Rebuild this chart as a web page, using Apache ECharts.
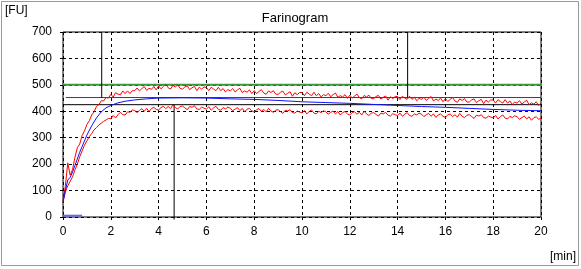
<!DOCTYPE html>
<html><head><meta charset="utf-8">
<script src="https://cdn.jsdelivr.net/npm/echarts@6/dist/echarts.min.js"></script>
<style>html,body{margin:0;padding:0;background:#fff}#c{width:581px;height:269px}</style>
</head><body><div id="c"></div>
<script>
// ---- data ----
const xTicks = [0,2,4,6,8,10,12,14,16,18,20];
const yTicks = [0,100,200,300,400,500,600,700];
const redTimes = [0,0.1,0.2,0.3,0.4,0.5,0.6,0.7,0.8,0.9,1,1.1,1.2,1.3,1.4,1.5,1.6,1.7,1.8,1.9,
2,2.1,2.2,2.3,2.4,2.5,2.6,2.7,2.8,2.9,3,3.1,3.2,3.3,3.4,3.5,3.6,3.7,3.8,3.9,
4,4.1,4.2,4.3,4.4,4.5,4.6,4.7,4.8,4.9,5,5.1,5.2,5.3,5.4,5.5,5.6,5.7,5.8,5.9,
6,6.1,6.2,6.3,6.4,6.5,6.6,6.7,6.8,6.9,7,7.1,7.2,7.3,7.4,7.5,7.6,7.7,7.8,7.9,
8,8.1,8.2,8.3,8.4,8.5,8.6,8.7,8.8,8.9,9,9.1,9.2,9.3,9.4,9.5,9.6,9.7,9.8,9.9,
10,10.1,10.2,10.3,10.4,10.5,10.6,10.7,10.8,10.9,11,11.1,11.2,11.3,11.4,11.5,11.6,11.7,11.8,11.9,
12,12.1,12.2,12.3,12.4,12.5,12.6,12.7,12.8,12.9,13,13.1,13.2,13.3,13.4,13.5,13.6,13.7,13.8,13.9,
14,14.1,14.2,14.3,14.4,14.5,14.6,14.7,14.8,14.9,15,15.1,15.2,15.3,15.4,15.5,15.6,15.7,15.8,15.9,
16,16.1,16.2,16.3,16.4,16.5,16.6,16.7,16.8,16.9,17,17.1,17.2,17.3,17.4,17.5,17.6,17.7,17.8,17.9,
18,18.1,18.2,18.3,18.4,18.5,18.6,18.7,18.8,18.9,19,19.1,19.2,19.3,19.4,19.5,19.6,19.7,19.8,19.9,20];
const redUpper = [55,118,205,158,180,226,262,276,308,326,350,364,386,398,418,425,440,439,452,450,
464,454,470,465,462,477,467,477,467,478,478,488,477,486,494,479,487,483,494,481,
496,485,494,501,489,484,498,492,500,487,484,492,496,482,489,494,478,491,484,492,
490,478,491,484,478,491,478,486,473,482,477,486,473,481,487,471,477,472,481,467,
478,467,475,482,469,464,477,471,478,465,464,472,476,462,468,474,457,470,463,471,
471,459,472,465,459,472,459,467,454,463,459,468,455,463,469,453,459,454,463,449,
461,450,458,465,452,447,460,454,461,448,448,456,460,446,453,458,442,455,448,456,
456,444,457,450,445,457,445,453,440,449,445,454,441,449,456,439,446,441,450,436,
448,437,445,452,439,434,447,441,448,435,435,443,447,433,440,445,429,442,435,443,
443,431,444,437,431,444,431,439,426,435,431,440,427,435,442,425,432,427,436,422,432];
const redLower = [60,95,118,135,152,178,200,228,250,272,288,304,316,330,338,348,355,362,367,373,
372,384,375,387,396,387,386,398,396,405,403,395,403,410,400,411,399,410,415,407,
405,414,419,410,418,410,424,414,409,418,420,413,406,418,415,421,409,407,416,412,
408,417,404,413,419,407,404,414,409,416,411,402,408,414,403,411,398,408,411,402,
397,406,410,400,407,398,411,401,396,404,406,399,392,404,401,406,395,393,401,397,
394,403,390,399,405,393,390,400,395,402,398,389,396,401,390,399,386,395,399,390,
386,395,398,389,396,386,400,390,384,393,395,388,382,393,390,396,385,382,391,387,
384,393,381,389,395,384,381,390,386,393,389,380,387,392,381,390,377,386,390,381,
377,386,390,380,387,378,392,381,376,385,387,380,373,385,382,387,376,374,382,378,
375,384,371,380,386,374,371,381,376,383,379,370,376,382,371,379,366,376,379,370,373];
const blueTimes = [0,0.1,0.2,0.3,0.4,0.5,0.7,1,1.2,1.4,1.6,1.8,2,2.3,2.6,3,3.5,4,5,6,7,8,9,10,11,12,13,14,15,16,17,18,19,20];
const blueMid = [55,100,140,150,170,195,245,310,345,375,398,413,422,432,438,443,447,450,451,450,447,445,441,436,433,430,426,422,418,415,411,407,404,402];
const baseTimes = [0,0.8];
const baseVals = [5,5];
const greenLevel = 500, purpleLevel = 452, blackLevel = 425;
const purpleStart = 0.12;
const vMark1 = 1.62, vMark2 = 4.65, vMark3 = 14.42;

const zip = (t, v) => t.map((x, i) => [x, v[i]]);
const FONT = 'Liberation Sans';
const chart = echarts.init(document.getElementById('c'), null, {renderer:'canvas'});
const lineS = (data, color, extra) => Object.assign({
  type:'line', data, symbol:'none', silent:true, animation:false, smooth:false,
  lineStyle:{color, width:1}
}, extra || {});

chart.setOption({
  animation:false,
  backgroundColor:'#fff',
  title:{text:'Farinogram', left:290, top:7, textAlign:'center',
    textStyle:{fontFamily:FONT, fontSize:13, fontWeight:'normal', color:'#000'}},
  grid:{left:63, top:32, width:478, height:185, show:true, borderColor:'#000', borderWidth:1, backgroundColor:'#fff'},
  xAxis:{type:'value', min:0, max:20, interval:2,
    axisLine:{show:false},
    axisTick:{show:true, length:6, lineStyle:{color:'#000', type:[3,3]}},
    splitLine:{show:true, lineStyle:{color:'#000', type:[3,3], width:1}},
    axisLabel:{fontFamily:FONT, fontSize:12, color:'#000', margin:9}},
  yAxis:{type:'value', min:0, max:700, interval:100,
    axisLine:{show:false},
    axisTick:{show:true, length:6, lineStyle:{color:'#000', type:[3,3]}},
    splitLine:{show:true, lineStyle:{color:'#000', type:[3,3], width:1}},
    axisLabel:{fontFamily:FONT, fontSize:12, color:'#000', margin:11}},
  graphic:[
    {type:'rect', shape:{x:1.5, y:1.5, width:577, height:264}, style:{fill:null, stroke:'#9a9a9a', lineWidth:1}, silent:true},
    {type:'text', left:5, top:5, style:{text:'[FU]', font:'12px "Liberation Sans"', fill:'#000'}},
    {type:'text', left:550, top:251, style:{text:'[min]', font:'12px "Liberation Sans"', fill:'#000'}}
  ],
  series:[
    lineS([[0,greenLevel],[20,greenLevel]], '#3c9a3c', {lineStyle:{color:'#3c9a3c', width:2}}),
    lineS([[purpleStart,purpleLevel],[20,purpleLevel]], '#4a2a8a'),
    lineS([[0,blackLevel],[20,blackLevel]], '#000'),
    lineS([[vMark1,700],[vMark1,purpleLevel]], '#000'),
    lineS([[vMark3,700],[vMark3,purpleLevel]], '#000'),
    lineS([[vMark2,blackLevel],[vMark2,-10]], '#000', {clip:false}),
    lineS(zip(baseTimes, baseVals), '#6a6ae0', {lineStyle:{color:'#6a6ae0', width:2}}),
    lineS(zip(redTimes, redLower), '#ff0000'),
    lineS(zip(redTimes, redUpper), '#ff0000'),
    lineS(zip(blueTimes, blueMid), '#1010ff')
  ]
});
</script></body></html>
